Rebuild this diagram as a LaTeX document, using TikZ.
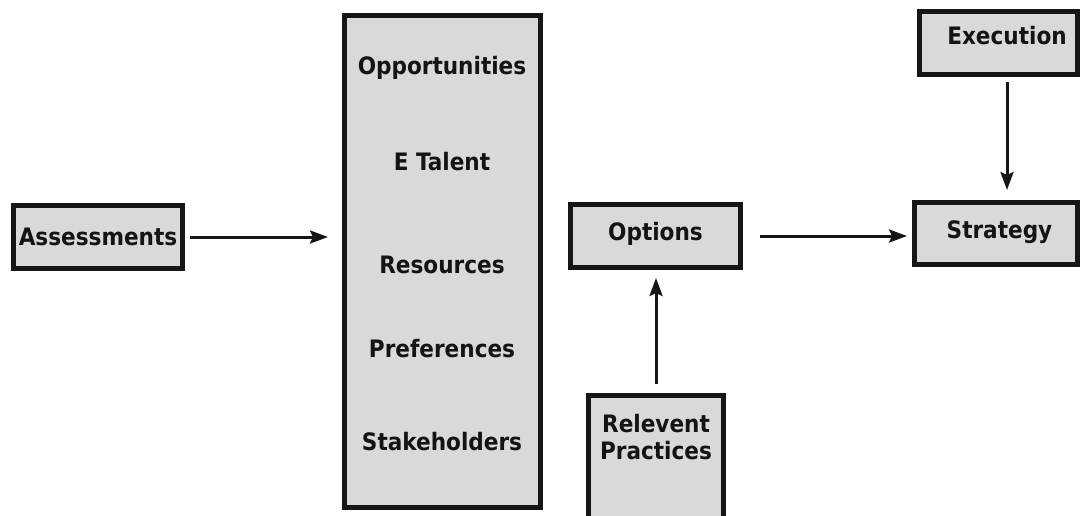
\documentclass[tikz,border=0pt]{standalone}
\usepackage{fontspec}
\newfontfamily\lblfont{DejaVu Sans Condensed}
\usetikzlibrary{arrows.meta}
\definecolor{boxfill}{HTML}{D9D9D9}
\definecolor{boxline}{HTML}{161616}
\definecolor{txt}{HTML}{141414}
\tikzset{
  lbl/.style={font=\lblfont\bfseries\fontsize{24}{27}\selectfont, text=txt},
  box/.style={draw=boxline, fill=boxfill, line width=5pt, inner sep=0pt,
    lbl, text height=17.5pt},
  txtnode/.style={lbl, inner sep=0pt, text height=17.5pt, text depth=0pt},
  arr/.style={draw=boxline, line width=3pt,
    -{Stealth[length=18pt,width=13pt,inset=3pt]}}
}
\begin{document}
\begin{tikzpicture}[x=1pt,y=-1pt]
\clip (0,0) rectangle (1081,515);
\useasboundingbox (0,0) rectangle (1081,515);
\fill[white] (0,0) rectangle (1081,515);
% boxes
\node[box, minimum width=169pt, minimum height=63pt, text depth=0pt] (assess) at (98,237) {Assessments};
\node[box, minimum width=196pt, minimum height=492pt] (factors) at (442.5,261.5) {};
\node[box, minimum width=170pt, minimum height=63pt, text depth=8pt] (options) at (655.5,236) {Options};
\node[box, minimum width=163pt, minimum height=62pt, text depth=8pt] (strategy) at (996,233.5) {\hspace*{7pt}Strategy};
\node[box, minimum width=158pt, minimum height=63pt, text depth=14pt] (execution) at (998.5,43) {\hspace*{17pt}Execution};
\node[box, minimum width=135pt, minimum height=150pt] (rel) at (656,470.5) {};
% texts in the large box
\node[txtnode] (opp) at (442,66) {Opportunities};
\node[txtnode] (etal) at (442,162) {E Talent};
\node[txtnode] (res) at (442,265) {Resources};
\node[txtnode] (pref) at (442,349) {Preferences};
\node[txtnode] (stake) at (442,442) {Stakeholders};
% text in relevant practices box
\node[lbl, align=center, inner sep=0pt] (relt) at (656,437) {Relevent\\Practices};
% arrows
\coordinate (exdown) at ([xshift=8.5pt]execution.south);
\draw[arr, shorten <=5pt, shorten >=14pt] (assess.east) -- (assess.east -| factors.west);
\draw[arr, shorten <=17pt, shorten >=5pt] (options.east) -- (options.east -| strategy.west);
\draw[arr, shorten <=5pt, shorten >=10pt] (exdown) -- (exdown |- strategy.north);
\draw[arr, shorten <=9pt, shorten >=8pt] (rel.north) -- (rel.north |- options.south);
\end{tikzpicture}
\end{document}
